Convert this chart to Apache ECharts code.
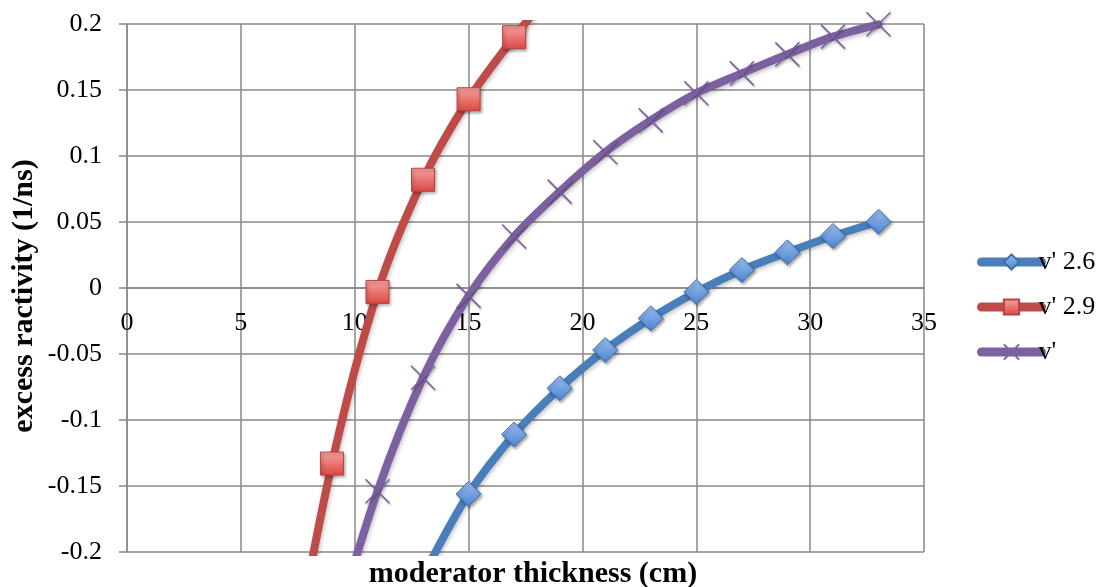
<!DOCTYPE html>
<html>
<head>
<meta charset="utf-8">
<script src="https://cdn.jsdelivr.net/npm/echarts@6/dist/echarts.min.js"></script>
<style>
html,body{margin:0;padding:0;background:#fff;}
#chart{width:1101px;height:587px;}
</style>
</head>
<body>
<div id="chart"></div>
<script>
// ---- data ----
const xTicks = [0, 5, 10, 15, 20, 25, 30, 35];
const yTicks = [-0.2, -0.15, -0.1, -0.05, 0, 0.05, 0.1, 0.15, 0.2];

const seriesNames = ["v' 2.6", "v' 2.9", "v'"];

const x26 = [13, 15, 17, 19, 21, 23, 25, 27, 29, 31, 33];
const v26 = [-0.218, -0.156, -0.111, -0.076, -0.047, -0.023, -0.003, 0.0136, 0.027, 0.0394, 0.0502];

const x29 = [7, 9, 11, 13, 15, 17, 19];
const v29 = [-0.31, -0.133, -0.003, 0.082, 0.143, 0.190, 0.232];

const xV = [9, 11, 13, 15, 17, 19, 21, 23, 25, 27, 29, 31, 33];
const vV = [-0.265, -0.154, -0.068, -0.006, 0.039, 0.073, 0.103, 0.127, 0.1475, 0.1626, 0.177, 0.1904, 0.1998];

const xTitle = 'moderator thickness (cm)';
const yTitle = 'excess ractivity (1/ns)';

function pairs(xs, ys) { return xs.map((x, i) => [x, ys[i]]); }

const FONT = '"Liberation Serif", "Times New Roman", serif';
const GRID = '#888888';

const chart = echarts.init(document.getElementById('chart'), null, {renderer: 'canvas'});

const markerShadow = {shadowBlur: 3, shadowColor: 'rgba(0,0,0,0.35)', shadowOffsetX: 1.5, shadowOffsetY: 2};
const lineShadow = {shadowBlur: 4, shadowColor: 'rgba(0,0,0,0.25)', shadowOffsetX: 1, shadowOffsetY: 2};

const gridTop = 24, gridBottom = 35, chartH = 587;
const plotH = chartH - gridTop - gridBottom;
// x axis crosses the y axis at value 0 (middle of the y range)
const zeroOffset = -plotH * (0 - yTicks[0]) / (yTicks[yTicks.length - 1] - yTicks[0]);

chart.setOption({
  animation: false,
  backgroundColor: '#ffffff',
  grid: {left: 127, right: 177, top: gridTop, bottom: gridBottom, containLabel: false},
  xAxis: {
    type: 'value', min: xTicks[0], max: xTicks[xTicks.length - 1], interval: 5,
    position: 'bottom', offset: zeroOffset,
    axisLine: {show: true, onZero: false, lineStyle: {color: GRID, width: 1.5}},
    axisTick: {show: false},
    axisLabel: {color: '#000', fontFamily: FONT, fontSize: 26, margin: 22},
    splitLine: {show: true, lineStyle: {color: GRID, width: 1.5}}
  },
  yAxis: {
    type: 'value', min: yTicks[0], max: yTicks[yTicks.length - 1], interval: 0.05,
    axisLine: {show: true, onZero: false, lineStyle: {color: GRID, width: 1.5}},
    axisTick: {show: true, length: 8, lineStyle: {color: GRID, width: 1.5}},
    axisLabel: {color: '#000', fontFamily: FONT, fontSize: 26, margin: 25,
      formatter: v => String(Math.round(v * 100) / 100)},
    splitLine: {show: true, lineStyle: {color: GRID, width: 1.5}}
  },
  legend: {
    orient: 'vertical', left: 972, top: 244,
    itemWidth: 60, itemHeight: 19, itemGap: 19,
    lineStyle: {width: 9, cap: 'round'},
    textStyle: {color: '#000', fontFamily: FONT, fontSize: 26, padding: [0, 0, 0, -8]},
    data: seriesNames
  },
  graphic: [
    {type: 'text', x: 533, y: 574, style: {text: xTitle, font: 'bold 30px ' + FONT, fill: '#000', align: 'center', verticalAlign: 'middle'}},
    {type: 'text', x: 24, y: 296, rotation: Math.PI / 2, style: {text: yTitle, font: 'bold 30px ' + FONT, fill: '#000', align: 'center', verticalAlign: 'middle'}}
  ],
  series: [
    {
      name: seriesNames[0], type: 'line', smooth: 0.3, clip: true,
      data: pairs(x26, v26),
      symbol: 'diamond', symbolSize: 25,
      lineStyle: Object.assign({color: '#4A7EBB', width: 8, cap: 'round'}, lineShadow),
      itemStyle: Object.assign({
        color: {type: 'linear', x: 0, y: 0, x2: 0, y2: 1, colorStops: [{offset: 0, color: '#9CC0F0'}, {offset: 1, color: '#4A82CF'}]},
        borderColor: '#3D6FB0', borderWidth: 1
      }, markerShadow),
      z: 3
    },
    {
      name: seriesNames[1], type: 'line', smooth: 0.3, clip: true,
      data: pairs(x29, v29),
      symbol: 'rect', symbolSize: 23,
      lineStyle: Object.assign({color: '#BE4B48', width: 8, cap: 'round'}, lineShadow),
      itemStyle: Object.assign({
        color: {type: 'linear', x: 0, y: 0, x2: 0, y2: 1, colorStops: [{offset: 0, color: '#F9A3A1'}, {offset: 1, color: '#DB4743'}]},
        borderColor: '#B8433F', borderWidth: 1
      }, markerShadow),
      z: 4
    },
    {
      name: seriesNames[2], type: 'line', smooth: 0.3, clip: true,
      data: pairs(xV, vV),
      symbol: 'path://M0,0L10,10M10,0L0,10', symbolSize: 24,
      lineStyle: Object.assign({color: '#7D60A0', width: 8, cap: 'round'}, lineShadow),
      itemStyle: {color: '#7D60A0', borderColor: '#7D60A0', borderWidth: 1.6,
        shadowBlur: 2, shadowColor: 'rgba(0,0,0,0.3)', shadowOffsetX: 1, shadowOffsetY: 1.5},
      z: 3
    }
  ]
});
</script>
</body>
</html>
